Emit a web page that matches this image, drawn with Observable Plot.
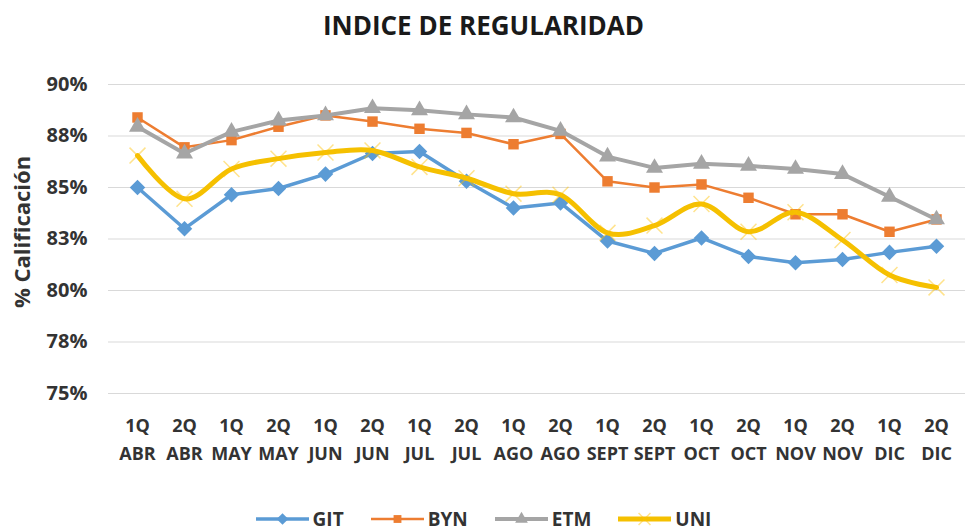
<!DOCTYPE html>
<html>
<head>
<meta charset="utf-8">
<script src="https://cdn.jsdelivr.net/npm/d3@7"></script>
<script src="https://cdn.jsdelivr.net/npm/@observablehq/plot@0.6"></script>
<style>
  html, body { margin: 0; padding: 0; background: #fff; }
  body { width: 967px; height: 531px; position: relative; overflow: hidden; font-family: "Open Sans", sans-serif; }
  #title { position: absolute; left: 0; top: 12px; width: 967px; text-align: center; font-size: 26px; line-height: 26px; font-weight: 700; color: #1a1a1a; }
  #chart { position: absolute; left: 0; top: 55px; }
  #legend { position: absolute; left: 0; top: 509px; width: 967px; height: 20px; line-height: 20px; display: flex; justify-content: center; align-items: center; gap: 27px; font-size: 19px; font-weight: 700; color: #333; }
  #legend .item { display: flex; align-items: center; height: 20px; }
  #legend svg { margin-right: 4px; }
</style>
</head>
<body>
<div id="title">INDICE DE REGULARIDAD</div>
<div id="chart"></div>
<div id="legend"></div>
<script>
const quincenas = ["1Q","2Q","1Q","2Q","1Q","2Q","1Q","2Q","1Q","2Q","1Q","2Q","1Q","2Q","1Q","2Q","1Q","2Q"];
const meses = ["ABR","ABR","MAY","MAY","JUN","JUN","JUL","JUL","AGO","AGO","SEPT","SEPT","OCT","OCT","NOV","NOV","DIC","DIC"];
const GIT = [85.0, 83.0, 84.65, 84.95, 85.65, 86.65, 86.75, 85.3, 84.0, 84.25, 82.4, 81.8, 82.55, 81.65, 81.35, 81.5, 81.85, 82.15];
const BYN = [88.4, 86.95, 87.3, 87.95, 88.5, 88.2, 87.85, 87.65, 87.1, 87.6, 85.3, 85.0, 85.15, 84.5, 83.7, 83.7, 82.85, 83.45];
const ETM = [87.95, 86.65, 87.7, 88.25, 88.5, 88.85, 88.75, 88.55, 88.4, 87.75, 86.5, 85.95, 86.15, 86.05, 85.9, 85.65, 84.55, 83.45];
const UNI = [86.55, 84.45, 85.9, 86.4, 86.7, 86.8, 86.0, 85.45, 84.7, 84.65, 82.8, 83.15, 84.2, 82.85, 83.8, 82.45, 80.75, 80.15];
const yTicks = [75, 77.5, 80, 82.5, 85, 87.5, 90];
const seriesNames = ["GIT", "BYN", "ETM", "UNI"];

const categories = quincenas.map((q, i) => q + "\n" + meses[i]);
const seriesValues = {GIT, BYN, ETM, UNI};
const styles = {
  GIT: {color: "#5B9BD5", width: 3.5, symbol: "diamond2", r: 7, fill: "#5B9BD5", curve: "linear"},
  BYN: {color: "#ED7D31", width: 2.5, symbol: "square", r: 5.9, fill: "#ED7D31", curve: "linear"},
  ETM: {color: "#A5A5A5", width: 4, symbol: "triangle", r: 6.3, fill: "#A5A5A5", curve: "linear"},
  UNI: {color: "#F5C000", width: 5, symbol: "times", r: 7.3, fill: "none", curve: "cardinal"}
};

const marks = [
  Plot.gridY(yTicks, {stroke: "#d9d9d9", strokeOpacity: 1, strokeWidth: 1}),
  Plot.axisY(yTicks, {tickSize: 0, tickPadding: 21, fontSize: 20, tickFormat: d => Math.round(d) + "%", label: null}),
  Plot.axisX({tickSize: 0, tickPadding: 19, fontSize: 18, lineHeight: 1.55, label: null}),
  Plot.text(["% Calificación"], {frameAnchor: "left", textAnchor: "middle", rotate: -90, dx: -86, dy: -7, fontSize: 22, fill: "#333", text: d => d})
];
for (const name of seriesNames) {
  const s = styles[name];
  const rows = seriesValues[name].map((v, i) => ({cat: categories[i], v}));
  const lineOpts = {x: "cat", y: "v", stroke: s.color, strokeWidth: s.width, curve: s.curve};
  if (s.curve === "cardinal") lineOpts.tension = 0;
  marks.push(Plot.line(rows, lineOpts));
  if (name === "UNI") {
    marks.push(Plot.dot(rows, {x: "cat", y: "v", symbol: "times", r: s.r, stroke: "#FFC000", strokeOpacity: 0.45, strokeWidth: 1.5}));
  } else {
    marks.push(Plot.dot(rows, {x: "cat", y: "v", symbol: s.symbol, r: s.r, fill: s.fill, stroke: "none"}));
  }
}

const chart = Plot.plot({
  width: 967,
  height: 435,
  marginTop: 29,
  marginBottom: 97,
  marginLeft: 108,
  marginRight: 2,
  style: {fontFamily: "'Open Sans', sans-serif", fontWeight: "bold", color: "#333", background: "white", overflow: "visible"},
  x: {type: "point", domain: categories, padding: 0.5},
  y: {domain: [75, 90]},
  marks
});
document.getElementById("chart").appendChild(chart);

// legend
const legend = document.getElementById("legend");
const symMap = {diamond2: d3.symbolDiamond2, square: d3.symbolSquare, triangle: d3.symbolTriangle, times: d3.symbolTimes};
for (const name of seriesNames) {
  const s = styles[name];
  const item = document.createElement("div");
  item.className = "item";
  const w = 53, h = 20;
  const svg = d3.create("svg").attr("width", w).attr("height", h);
  svg.append("line").attr("x1", 0).attr("x2", w).attr("y1", h / 2).attr("y2", h / 2)
    .attr("stroke", s.color).attr("stroke-width", s.width);
  const path = d3.symbol(symMap[s.symbol], Math.PI * (s.r * 0.75) ** 2)();
  const p = svg.append("path").attr("d", path).attr("transform", `translate(${w / 2},${h / 2})`);
  if (name === "UNI") p.attr("fill", "none").attr("stroke", "#FFC000").attr("stroke-opacity", 0.45).attr("stroke-width", 1.5);
  else p.attr("fill", s.fill);
  item.appendChild(svg.node());
  const label = document.createElement("span");
  label.textContent = name;
  item.appendChild(label);
  legend.appendChild(item);
}
</script>
</body>
</html>
